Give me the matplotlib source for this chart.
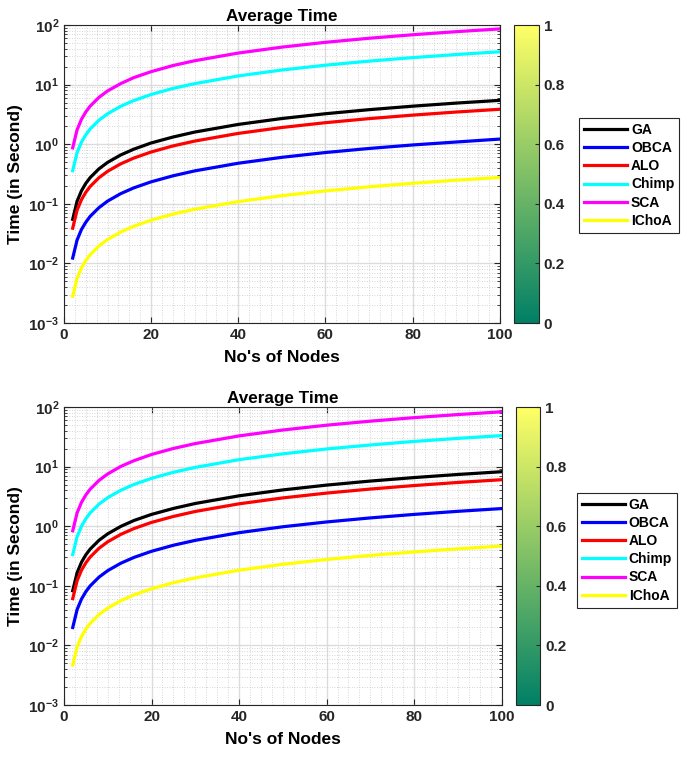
import numpy as np
import matplotlib
matplotlib.use('Agg')
import matplotlib.pyplot as plt
from matplotlib.ticker import FuncFormatter, LogLocator, MultipleLocator, NullFormatter
from matplotlib.cm import ScalarMappable
from matplotlib.colors import Normalize

plt.rcParams['font.family'] = ['Liberation Sans', 'DejaVu Sans']
plt.rcParams['font.weight'] = 'bold'
plt.rcParams['mathtext.fontset'] = 'custom'
plt.rcParams['mathtext.bf'] = 'Liberation Sans:bold'
plt.rcParams['mathtext.rm'] = 'Liberation Sans:bold'

nodes = [2, 3, 4, 5, 6, 8, 10, 13, 16, 20, 25, 30, 40, 50, 60, 70, 80, 90, 100]

names = ['GA', 'OBCA', 'ALO', 'Chimp', 'SCA', 'IChoA']
colors = ['black', 'blue', 'red', 'cyan', 'magenta', 'yellow']

# top panel
ga_1 = [0.055, 0.11, 0.165, 0.22, 0.275, 0.385, 0.495, 0.66, 0.825, 1.05, 1.32, 1.6, 2.15, 2.7, 3.25, 3.8, 4.35, 4.9, 5.45]
obca_1 = [0.0123, 0.0246, 0.037, 0.049, 0.0615, 0.086, 0.111, 0.148, 0.185, 0.234, 0.295, 0.357, 0.48, 0.603, 0.726, 0.849, 0.972, 1.09, 1.22]
alo_1 = [0.039, 0.078, 0.117, 0.156, 0.195, 0.273, 0.351, 0.468, 0.585, 0.741, 0.936, 1.13, 1.52, 1.91, 2.3, 2.69, 3.08, 3.47, 3.86]
chimp_1 = [0.36, 0.72, 1.08, 1.44, 1.8, 2.52, 3.24, 4.32, 5.4, 6.84, 8.64, 10.4, 14.0, 17.6, 21.2, 24.8, 28.4, 32.0, 35.6]
sca_1 = [0.87, 1.74, 2.61, 3.48, 4.35, 6.09, 7.83, 10.4, 13.1, 16.5, 20.9, 25.2, 33.9, 42.6, 51.3, 60.0, 68.7, 77.4, 86.1]
ichoa_1 = [0.0028, 0.0056, 0.0084, 0.0112, 0.014, 0.0196, 0.0252, 0.0336, 0.042, 0.0532, 0.0672, 0.0812, 0.109, 0.137, 0.165, 0.193, 0.221, 0.249, 0.277]

# bottom panel
ga_2 = [0.083, 0.166, 0.249, 0.332, 0.415, 0.581, 0.747, 0.996, 1.25, 1.58, 1.99, 2.41, 3.24, 4.07, 4.9, 5.73, 6.56, 7.39, 8.22]
obca_2 = [0.020, 0.040, 0.060, 0.080, 0.10, 0.14, 0.18, 0.24, 0.30, 0.38, 0.48, 0.58, 0.78, 0.98, 1.18, 1.38, 1.58, 1.78, 1.98]
alo_2 = [0.061, 0.122, 0.183, 0.244, 0.305, 0.427, 0.549, 0.732, 0.915, 1.16, 1.46, 1.77, 2.38, 2.99, 3.6, 4.21, 4.82, 5.43, 6.04]
chimp_2 = [0.335, 0.67, 1.0, 1.34, 1.68, 2.35, 3.02, 4.02, 5.03, 6.37, 8.04, 9.72, 13.1, 16.4, 19.8, 23.1, 26.5, 29.8, 33.2]
sca_2 = [0.84, 1.68, 2.52, 3.36, 4.2, 5.88, 7.56, 10.1, 12.6, 16.0, 20.2, 24.4, 32.8, 41.2, 49.6, 58.0, 66.4, 74.8, 83.2]
ichoa_2 = [0.0047, 0.0094, 0.0141, 0.0188, 0.0235, 0.033, 0.0423, 0.0564, 0.0705, 0.0893, 0.113, 0.136, 0.183, 0.230, 0.277, 0.324, 0.371, 0.418, 0.465]

panels = [
    ([ga_1, obca_1, alo_1, chimp_1, sca_1, ichoa_1], [0.0934, 0.5744, 0.636, 0.3926], [0.750, 0.5744, 0.0365, 0.3926], (0.845, 0.8445)),
    ([ga_2, obca_2, alo_2, chimp_2, sca_2, ichoa_2], [0.0934, 0.0711, 0.639, 0.3926], [0.753, 0.0711, 0.0355, 0.3926], (0.842, 0.3505)),
]

fig = plt.figure(figsize=(6.85, 7.59), dpi=100)

def pow_fmt(v, pos):
    return r'$\mathbf{10^{%d}}$' % int(round(np.log10(v)))

for series, ax_pos, cb_pos, leg_xy in panels:
    ax = fig.add_axes(ax_pos)
    for vals, name, col in zip(series, names, colors):
        ax.plot(nodes, vals, color=col, lw=2.3, label=name)
    ax.set_yscale('log')
    ax.set_xlim(0, 100)
    ax.set_ylim(1e-3, 1e2)
    ax.xaxis.set_major_locator(MultipleLocator(20))
    ax.xaxis.set_minor_locator(MultipleLocator(2.5))
    ax.yaxis.set_major_locator(LogLocator(base=10, numticks=10))
    ax.yaxis.set_minor_locator(LogLocator(base=10, subs=np.arange(2, 10), numticks=10))
    ax.yaxis.set_major_formatter(FuncFormatter(pow_fmt))
    ax.yaxis.set_minor_formatter(NullFormatter())
    ax.grid(True, which='major', color='#dcdcdc', lw=1.0)
    ax.grid(True, which='minor', color='#c8c8c8', lw=0.6, ls=(0, (1, 2)))
    ax.set_axisbelow(True)
    ax.tick_params(which='both', direction='in', top=True, right=True, colors='#262626', labelsize=11)
    ax.tick_params(which='major', length=4)
    ax.tick_params(which='minor', length=2)
    ax.tick_params(axis='x', which='minor', length=0)
    for s in ax.spines.values():
        s.set_color('#262626')
        s.set_linewidth(0.8)
    ax.set_title('Average Time', fontsize=12.3, fontweight='bold', pad=3)
    ax.set_xlabel("No's of Nodes", fontsize=12.5, fontweight='bold', labelpad=6)
    ax.set_ylabel('Time (in Second)', fontsize=12.5, fontweight='bold', labelpad=4)

    cax = fig.add_axes(cb_pos)
    cb = fig.colorbar(ScalarMappable(norm=Normalize(0, 1), cmap='summer'), cax=cax)
    cb.set_ticks([0, 0.2, 0.4, 0.6, 0.8, 1])
    cb.set_ticklabels(['0', '0.2', '0.4', '0.6', '0.8', '1'])
    cb.ax.tick_params(labelsize=11, colors='#262626', direction='in', length=3)
    cb.outline.set_edgecolor('#262626')
    cb.outline.set_linewidth(0.8)

    leg = fig.legend(*ax.get_legend_handles_labels(), loc='upper left', bbox_to_anchor=leg_xy,
                     bbox_transform=fig.transFigure, fancybox=False, edgecolor='#262626',
                     fontsize=10, handlelength=3.1, handletextpad=0.3, labelspacing=0.3,
                     borderpad=0.35, borderaxespad=0, framealpha=1)
    leg.get_frame().set_linewidth(0.8)

fig.savefig('out.png', dpi=100)
